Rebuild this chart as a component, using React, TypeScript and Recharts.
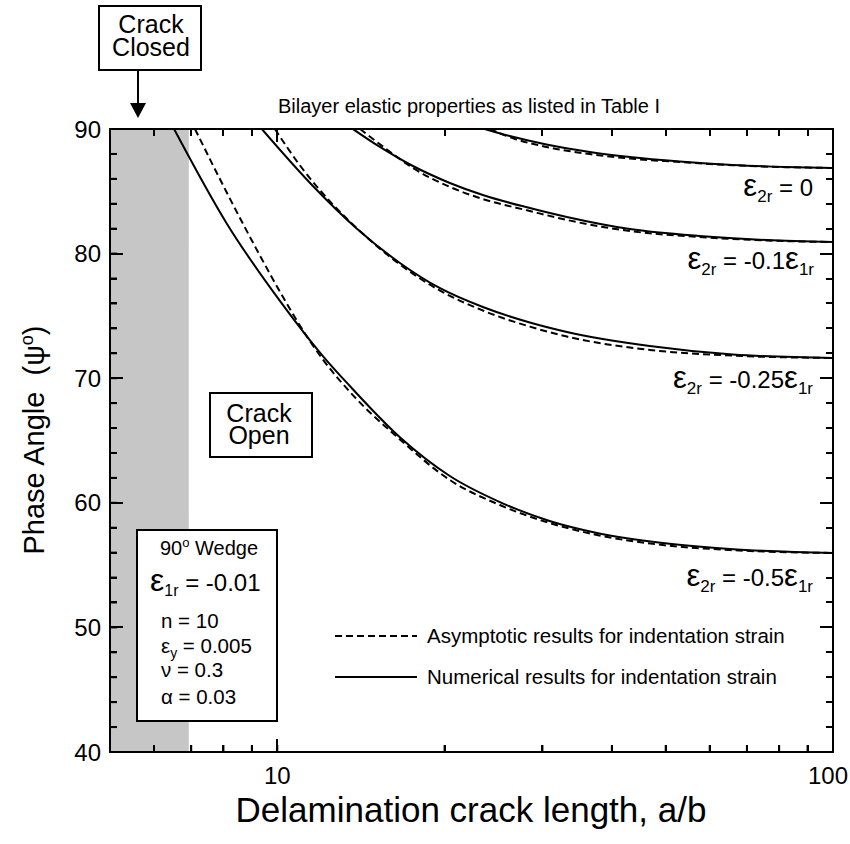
import React from 'react';
import { LineChart, Line, XAxis, YAxis, ReferenceArea } from 'recharts';

type Pt = [number, number];

// crack length a/b vs phase angle psi (deg)
const numZero: Pt[] = [[23.6, 90], [26.2, 89.44], [30.5, 88.76], [36.5, 88.15], [43.1, 87.75], [53, 87.39], [66, 87.11], [81.9, 86.95], [100, 86.87]];
const asyZero: Pt[] = [[24.13, 90], [26.77, 89.2], [30.5, 88.56], [36.5, 87.99], [43.1, 87.63], [53, 87.35], [66, 87.09], [81.9, 86.94], [100, 86.87]];
const numTenth: Pt[] = [[13.68, 90], [15.3, 88.56], [17.54, 87.03], [20.44, 85.67], [23.44, 84.7], [28.47, 83.66], [33.2, 82.94], [43.1, 81.97], [57.5, 81.41], [76, 81.09], [100, 80.93]];
const asyTenth: Pt[] = [[14.09, 90], [15.61, 88.48], [17.54, 86.87], [20.44, 85.35], [23.44, 84.38], [28.47, 83.42], [33.2, 82.7], [43.1, 81.81], [57.5, 81.33], [76, 81.05], [100, 80.93]];
const numQuarter: Pt[] = [[9.38, 90], [11.59, 85.43], [13.91, 82.0], [16.62, 79.25], [19.59, 77.24], [23.44, 75.71], [28.47, 74.47], [33.2, 73.71], [46.8, 72.58], [66, 71.9], [100, 71.62]];
const asyQuarter: Pt[] = [[9.9, 90], [10.98, 87.09], [12.43, 84.2], [13.91, 82.03], [16.62, 79.13], [19.59, 77.05], [23.44, 75.43], [28.47, 74.14], [33.2, 73.34], [46.8, 72.27], [66, 71.81], [100, 71.62]];
const numHalf: Pt[] = [[6.52, 90], [8.12, 82.38], [10.11, 76.2], [11.21, 73.56], [12.08, 71.78], [13.51, 69.37], [16.62, 65.26], [20.44, 62.15], [25.15, 60.06], [30.9, 58.54], [37.6, 57.58], [49.4, 56.77], [65.2, 56.29], [100, 55.97]];
const asyHalf: Pt[] = [[7.11, 90], [8.12, 84.86], [9.31, 79.83], [10.24, 76.51], [11.21, 73.6], [12.08, 71.5], [13.51, 68.9], [16.62, 65.09], [20.44, 61.83], [25.15, 59.82], [30.9, 58.38], [37.6, 57.42], [49.4, 56.61], [65.2, 56.21], [100, 55.97]];

const closedLimit = 6.93; // crack closed below this a/b

const xTicks = [6, 7, 8, 9, 10, 20, 30, 40, 50, 60, 70, 80, 90, 100];
const xLabels = [10, 100];
const yTicks = [40, 42, 44, 46, 48, 50, 52, 54, 56, 58, 60, 62, 64, 66, 68, 70, 72, 74, 76, 78, 80, 82, 84, 86, 88, 90];
const yLabels = [40, 50, 60, 70, 80, 90];

const legendItems = [
  { label: 'Asymptotic results for indentation strain', dashed: true },
  { label: 'Numerical results for indentation strain', dashed: false },
];

const toPts = (p: Pt[]) => p.map(([x, y]) => ({ x, y }));

const series = [
  { key: 'n0', d: numZero, dash: undefined },
  { key: 'a0', d: asyZero, dash: '7 4' },
  { key: 'n1', d: numTenth, dash: undefined },
  { key: 'a1', d: asyTenth, dash: '7 4' },
  { key: 'n2', d: numQuarter, dash: undefined },
  { key: 'a2', d: asyQuarter, dash: '7 4' },
  { key: 'n3', d: numHalf, dash: undefined },
  { key: 'a3', d: asyHalf, dash: '7 4' },
];

// plot frame (matches the chart margins below)
const plot = { left: 110, right: 833, top: 129, bottom: 752 };
const MINOR = 7;
const MAJOR = 13;
const fx = (v: number) => plot.left + ((plot.right - plot.left) * Math.log10(v / 5)) / Math.log10(20);
const fy = (v: number) => plot.bottom - ((v - 40) * (plot.bottom - plot.top)) / 50;

const BottomTick = (props: any) => {
  const { x, y, payload } = props;
  if (!xLabels.includes(payload.value)) return <g />;
  const last = payload.value === 100;
  return (
    <text x={last ? x - 5 : x} y={y + MINOR + 32} textAnchor="middle" fontSize={24} fill="#000">
      {payload.value}
    </text>
  );
};

const LeftTick = (props: any) => {
  const { x, y, payload } = props;
  if (!yLabels.includes(payload.value)) return <g />;
  return (
    <text x={x - MINOR - 9} y={y + 8.5} textAnchor="end" fontSize={24} fill="#000">
      {payload.value}
    </text>
  );
};

const tickLineStyle = { stroke: '#000', strokeWidth: 2 };
const axisLineStyle = { stroke: '#000', strokeWidth: 2 };
const font = '"Liberation Sans", Arial, Helvetica, sans-serif';

// html text placed by its baseline (Liberation Sans metrics)
const Txt = ({ x, y, size, anchor = 'start', children }: { x: number; y: number; size: number; anchor?: string; children: React.ReactNode }) => (
  <div
    style={{
      position: 'absolute',
      left: x,
      top: y - 0.8465 * size,
      fontSize: size,
      lineHeight: `${size}px`,
      whiteSpace: 'pre',
      color: '#000',
      transform: anchor === 'middle' ? 'translateX(-50%)' : anchor === 'end' ? 'translateX(-100%)' : undefined,
    }}
  >
    {children}
  </div>
);

const S = ({ size, dy = 0, children }: { size: number; dy?: number; children: React.ReactNode }) => (
  <span style={{ fontSize: size, lineHeight: 0, position: 'relative', top: dy }}>{children}</span>
);

const Eps = ({ sub, big = 31, small = 17, drop = 6 }: { sub: string; big?: number; small?: number; drop?: number }) => (
  <>
    <S size={big}>ε</S>
    <S size={small} dy={drop}>{sub}</S>
  </>
);

const Box = ({ x, y, w, h }: { x: number; y: number; w: number; h: number }) => (
  <div
    style={{
      position: 'absolute',
      left: x,
      top: y,
      width: w,
      height: h,
      border: '2px solid #000',
      boxSizing: 'border-box',
      background: '#fff',
    }}
  />
);

const Mark = ({ l, t, w, h }: { l: number; t: number; w: number; h: number }) => (
  <div style={{ position: 'absolute', left: l, top: t, width: w, height: h, background: '#000' }} />
);

// inward ticks on all four sides of the frame
const FrameTicks = () => (
  <>
    {xTicks.map((v) => {
      const len = xLabels.includes(v) ? MAJOR : MINOR;
      const x = fx(v);
      return (
        <React.Fragment key={'x' + v}>
          <Mark l={x - 1} t={plot.bottom - len} w={2} h={len} />
          <Mark l={x - 1} t={plot.top} w={2} h={len} />
        </React.Fragment>
      );
    })}
    {yTicks.map((v) => {
      const len = yLabels.includes(v) ? MAJOR : MINOR;
      const y = fy(v);
      return (
        <React.Fragment key={'y' + v}>
          <Mark l={plot.left} t={y - 1} w={len} h={2} />
          <Mark l={plot.right - len} t={y - 1} w={len} h={2} />
        </React.Fragment>
      );
    })}
  </>
);

const App = () => {
  return (
    <div
      style={{
        position: 'absolute',
        left: 0,
        top: 0,
        width: 850,
        height: 844,
        background: '#fff',
        fontFamily: font,
      }}
    >
      <LineChart width={850} height={844} margin={{ top: 129, right: 17, bottom: 52, left: 60 }}>
        <ReferenceArea
          xAxisId="b"
          yAxisId="l"
          x1={5}
          x2={closedLimit}
          y1={40}
          y2={90}
          fill="#c6c6c6"
          fillOpacity={1}
          stroke="none"
        />
        {series.map((s) => (
          <Line
            key={s.key}
            data={toPts(s.d)}
            dataKey="y"
            xAxisId="b"
            yAxisId="l"
            type="monotone"
            stroke="#000"
            strokeWidth={2}
            strokeDasharray={s.dash}
            dot={false}
            isAnimationActive={false}
          />
        ))}
        {/* frame: top and right edges */}
        <ReferenceArea
          xAxisId="b"
          yAxisId="l"
          x1={5}
          x2={100}
          y1={40}
          y2={90}
          fill="none"
          fillOpacity={0}
          stroke="#000"
          strokeWidth={2}
        />
        <XAxis
          xAxisId="b"
          dataKey="x"
          type="number"
          scale="log"
          domain={[5, 100]}
          allowDataOverflow
          ticks={xTicks}
          interval={0}
          tickSize={-MINOR}
          tickMargin={0}
          tickLine={tickLineStyle}
          tick={BottomTick}
          height={40}
          axisLine={axisLineStyle}
        />
        <YAxis
          yAxisId="l"
          type="number"
          domain={[40, 90]}
          allowDataOverflow
          ticks={yTicks}
          interval={0}
          tickSize={-MINOR}
          tickMargin={0}
          tickLine={tickLineStyle}
          tick={LeftTick}
          width={50}
          axisLine={axisLineStyle}
        />
      </LineChart>

      <FrameTicks />

      {/* crack closed box + arrow */}
      <Box x={98} y={5} w={104} h={66} />
      <Txt x={151} y={33} size={25} anchor="middle">Crack</Txt>
      <Txt x={151} y={56} size={25} anchor="middle">Closed</Txt>
      <div style={{ position: 'absolute', left: 137, top: 70, width: 2, height: 36, background: '#000' }} />
      <div
        style={{
          position: 'absolute',
          left: 130,
          top: 103,
          width: 0,
          height: 0,
          borderLeft: '8px solid transparent',
          borderRight: '8px solid transparent',
          borderTop: '15px solid #000',
        }}
      />

      <Txt x={278} y={113} size={20}>Bilayer elastic properties as listed in Table I</Txt>

      {/* crack open box */}
      <Box x={209} y={392} w={104} h={66} />
      <Txt x={259} y={422} size={25} anchor="middle">Crack</Txt>
      <Txt x={259} y={444} size={25} anchor="middle">Open</Txt>

      {/* parameter box */}
      <Box x={136} y={529} w={142} h={193} />
      <Txt x={209} y={555} size={20} anchor="middle">
        90<S size={13} dy={-8}>o</S> Wedge
      </Txt>
      <Txt x={150} y={591} size={24}>
        <Eps sub="1r" big={32} small={16} drop={5} /> = -0.01
      </Txt>
      <Txt x={161} y={628} size={20.5}>n = 10</Txt>
      <Txt x={161} y={653} size={20.5}>
        ε<S size={14} dy={5}>y</S> = 0.005
      </Txt>
      <Txt x={161} y={677} size={20.5}>ν = 0.3</Txt>
      <Txt x={161} y={704} size={20.5}>α = 0.03</Txt>

      {/* curve labels */}
      <Txt x={813} y={196} size={24} anchor="end">
        <Eps sub="2r" /> = 0
      </Txt>
      <Txt x={814} y={269} size={24} anchor="end">
        <Eps sub="2r" /> = -0.1<Eps sub="1r" />
      </Txt>
      <Txt x={813} y={388} size={24} anchor="end">
        <Eps sub="2r" /> = -0.25<Eps sub="1r" />
      </Txt>
      <Txt x={813} y={586} size={24} anchor="end">
        <Eps sub="2r" /> = -0.5<Eps sub="1r" />
      </Txt>

      {/* legend */}
      {legendItems.map((it, i) => (
        <React.Fragment key={it.label}>
          <div
            style={{
              position: 'absolute',
              left: 335,
              top: 635 + i * 41,
              width: 82,
              height: 2,
              background: it.dashed
                ? 'repeating-linear-gradient(to right, #000 0 7px, transparent 7px 11px)'
                : '#000',
            }}
          />
          <Txt x={427} y={643 + i * 41} size={20.5}>{it.label}</Txt>
        </React.Fragment>
      ))}

      {/* axis titles */}
      <Txt x={471} y={822} size={35} anchor="middle">Delamination crack length, a/b</Txt>
      <div
        style={{
          position: 'absolute',
          left: 34,
          top: 440,
          fontSize: 29,
          lineHeight: '29px',
          whiteSpace: 'pre',
          transform: 'translate(-50%, -50%) rotate(-90deg)',
        }}
      >
        Phase Angle  (ψ<S size={18} dy={-11}>o</S>)
      </div>
    </div>
  );
};

export default App;
